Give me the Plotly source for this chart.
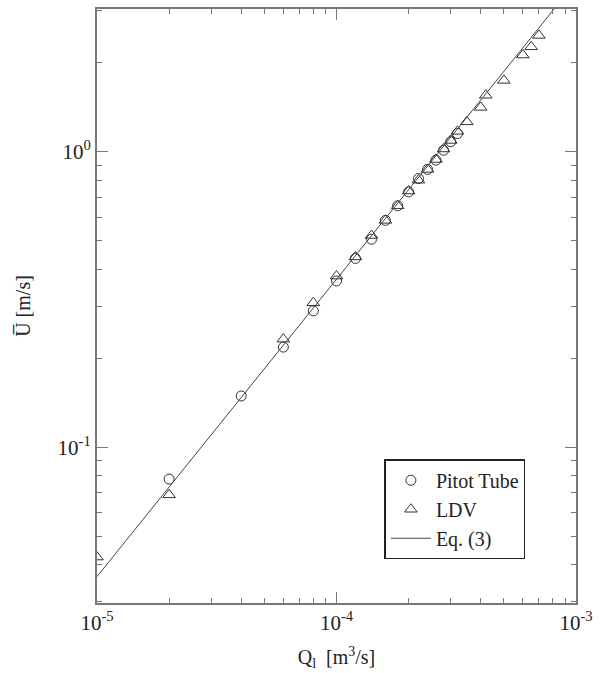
import plotly.graph_objects as go

# Pitot tube measurements
pitot_q = [2e-5, 4e-5, 6e-5, 8e-5, 1e-4, 1.2e-4, 1.4e-4, 1.6e-4, 1.8e-4, 2e-4,
           2.2e-4, 2.4e-4, 2.6e-4, 2.8e-4, 3e-4, 3.2e-4]
pitot_u = [0.078, 0.149, 0.218, 0.289, 0.365, 0.435, 0.505, 0.585, 0.655, 0.73,
           0.81, 0.87, 0.935, 1.01, 1.08, 1.15]

# LDV measurements
ldv_q = [1e-5, 2e-5, 6e-5, 8e-5, 1e-4, 1.2e-4, 1.4e-4, 1.6e-4, 1.8e-4, 2e-4,
         2.2e-4, 2.4e-4, 2.6e-4, 2.8e-4, 3e-4, 3.2e-4, 3.5e-4, 4e-4, 4.2e-4,
         5e-4, 6e-4, 6.5e-4, 7e-4]
ldv_u = [0.0425, 0.069, 0.232, 0.308, 0.379, 0.44, 0.52, 0.585, 0.655, 0.735,
         0.80, 0.87, 0.94, 1.02, 1.09, 1.17, 1.26, 1.41, 1.55,
         1.74, 2.12, 2.26, 2.47]

# Eq. (3)
eq_q = [1e-5, 1e-3]
eq_u = [0.0365, 3.75]

x_major = [1e-5, 1e-4, 1e-3]
x_major_text = ["10<sup>-5</sup>", "10<sup>-4</sup>", "10<sup>-3</sup>"]
y_major = [0.1, 1.0]
y_major_text = ["10<sup>-1</sup>", "10<sup>0</sup>"]

x_minor = [m * 10 ** e for e in (-5, -4) for m in range(2, 10)]
y_minor = [m * 10 ** e for e in (-2, -1, 0) for m in range(2, 10)]

font = "Liberation Serif"
ink = "#333333"

fig = go.Figure()
fig.add_trace(go.Scatter(x=pitot_q, y=pitot_u, mode="markers", name="Pitot Tube",
                         marker=dict(symbol="circle-open", size=10, color=ink,
                                     line=dict(width=1, color=ink))))
fig.add_trace(go.Scatter(x=ldv_q, y=ldv_u, mode="markers", name="LDV",
                         marker=dict(symbol="triangle-up-open", size=11, color=ink,
                                     line=dict(width=1, color=ink))))
fig.add_trace(go.Scatter(x=eq_q, y=eq_u, mode="lines", name="Eq. (3)",
                         line=dict(color="#444444", width=1)))

axis_common = dict(
    type="log", showgrid=False, zeroline=False, showline=True,
    linecolor="#777777", linewidth=2, mirror="ticks", ticks="inside",
    ticklen=11, tickwidth=1, tickcolor="#777777",
    tickfont=dict(family=font, size=21, color="#222222"),
)

fig.update_xaxes(
    **axis_common,
    range=[-5, -3],
    tickmode="array", tickvals=x_major, ticktext=x_major_text,
    minor=dict(tickmode="array", tickvals=x_minor, ticks="inside", ticklen=5,
               tickcolor="#777777", tickwidth=1, showgrid=False),
    title=dict(text="Q<sub>l</sub>  [m<sup>3</sup>/s]",
               font=dict(family=font, size=20, color="#222222"), standoff=16),
)
fig.update_yaxes(
    **axis_common,
    range=[-1.527, 0.482],
    tickmode="array", tickvals=y_major, ticktext=y_major_text,
    minor=dict(tickmode="array", tickvals=y_minor, ticks="inside", ticklen=5,
               tickcolor="#777777", tickwidth=1, showgrid=False),
    title=dict(text="U\u0305 [m/s]",
               font=dict(family=font, size=20, color="#222222"), standoff=22),
)

fig.update_layout(
    width=600, height=673,
    margin=dict(l=97, r=20, t=7, b=70),
    paper_bgcolor="white", plot_bgcolor="white",
    showlegend=True,
    legend=dict(x=0.6, y=0.242, xanchor="left", yanchor="top",
                bgcolor="white", bordercolor="#222222", borderwidth=1.5,
                font=dict(family=font, size=20, color="#222222"),
                itemwidth=40),
)

fig.write_html("out.html")
